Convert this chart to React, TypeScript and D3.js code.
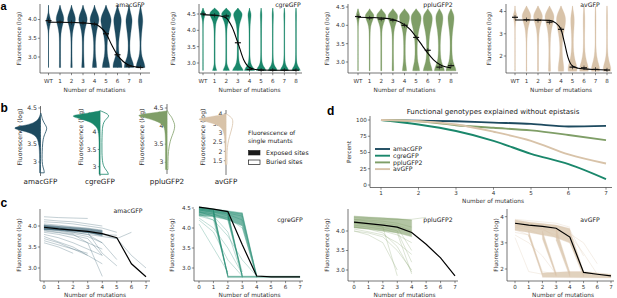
import React from 'react';
import * as d3 from 'd3';

const FONT = '"DejaVu Sans", sans-serif';
const AXC = '#3a3a3a';

// ---------------- colours ----------------
const proteins = ['amacGFP', 'cgreGFP', 'ppluGFP2', 'avGFP'];
const colors = ['#1d4a5f', '#1a876b', '#7f9e67', '#d8c3a9'];

// ---------------- panel a: violins ----------------
const mutationCats = ['WT', '1', '2', '3', '4', '5', '6', '7', '8'];

const amacLevelsA = [4.38, 4.3, 4.18, 4.05, 3.95, 3.82, 3.62, 3.4, 3.2, 3.0, 2.85, 2.72];
const amacViolinsA = [
  [0, 0, 0.05, 0.3, 0.5, 0.2, 0, 0, 0, 0, 0, 0],
  [0, 0.15, 0.45, 0.75, 0.72, 0.4, 0.15, 0.1, 0.1, 0.1, 0.1, 0.12],
  [0, 0.15, 0.45, 0.75, 0.75, 0.42, 0.15, 0.1, 0.1, 0.1, 0.12, 0.15],
  [0, 0.15, 0.5, 0.8, 0.8, 0.48, 0.2, 0.12, 0.12, 0.15, 0.2, 0.25],
  [0, 0.15, 0.5, 0.85, 0.85, 0.58, 0.3, 0.15, 0.15, 0.2, 0.35, 0.4],
  [0, 0.2, 0.6, 0.95, 1.0, 0.82, 0.45, 0.22, 0.2, 0.3, 0.6, 0.7],
  [0, 0.15, 0.4, 0.7, 0.72, 0.62, 0.4, 0.2, 0.2, 0.35, 0.8, 0.85],
  [0, 0.12, 0.3, 0.55, 0.6, 0.5, 0.3, 0.15, 0.15, 0.3, 0.8, 0.9],
  [0, 0.1, 0.25, 0.4, 0.45, 0.35, 0.2, 0.1, 0.1, 0.25, 0.7, 0.85],
];
const amacMediansA = [3.97, 3.93, 3.92, 3.91, 3.88, 3.62, 3.06, 2.76, 2.72];
const amacCurveA = [[0, 3.93], [1, 3.925], [2, 3.92], [3, 3.91], [4, 3.88], [4.5, 3.8], [5, 3.63], [5.5, 3.32], [6, 3.05], [6.5, 2.88], [7, 2.78], [7.5, 2.74], [8, 2.72]];

const cgreLevelsA = [4.68, 4.6, 4.52, 4.42, 4.28, 4.08, 3.75, 3.4, 3.1, 2.92, 2.83, 2.77];
const cgreViolinsA = [
  [0, 0.2, 0.45, 0.3, 0.05, 0, 0, 0, 0, 0, 0, 0],
  [0, 0.6, 1.0, 0.8, 0.3, 0.12, 0.08, 0.08, 0.08, 0.1, 0.3, 0.4],
  [0, 0.5, 0.95, 0.85, 0.4, 0.12, 0.08, 0.08, 0.08, 0.15, 0.5, 0.6],
  [0, 0.45, 0.85, 0.8, 0.45, 0.18, 0.1, 0.1, 0.15, 0.4, 0.9, 1.0],
  [0, 0.12, 0.3, 0.3, 0.18, 0.1, 0.08, 0.08, 0.1, 0.35, 0.85, 0.95],
  [0, 0.06, 0.15, 0.15, 0.1, 0.08, 0.06, 0.06, 0.08, 0.3, 0.8, 0.9],
  [0, 0.05, 0.12, 0.12, 0.08, 0.06, 0.05, 0.05, 0.07, 0.25, 0.75, 0.85],
  [0, 0.04, 0.1, 0.1, 0.07, 0.05, 0.05, 0.05, 0.07, 0.25, 0.7, 0.8],
  [0, 0.04, 0.08, 0.08, 0.06, 0.05, 0.05, 0.05, 0.07, 0.25, 0.7, 0.8],
];
const cgreMediansA = [4.5, 4.46, 4.44, 3.62, 2.8, 2.78, 2.78, 2.78, 2.78];
const cgreCurveA = [[0, 4.48], [1, 4.46], [1.5, 4.44], [2, 4.38], [2.5, 4.1], [3, 3.62], [3.5, 3.1], [4, 2.86], [4.5, 2.8], [5, 2.785], [6, 2.78], [8, 2.78]];

const ppluLevelsA = [4.45, 4.38, 4.3, 4.2, 4.05, 3.9, 3.7, 3.45, 3.2, 3.0, 2.85, 2.76];
const ppluViolinsA = [
  [0, 0.15, 0.35, 0.3, 0.05, 0, 0, 0, 0, 0, 0, 0],
  [0, 0.3, 0.85, 0.8, 0.3, 0.12, 0.08, 0.06, 0.06, 0.06, 0.06, 0.06],
  [0, 0.35, 0.9, 0.85, 0.4, 0.15, 0.1, 0.08, 0.08, 0.08, 0.08, 0.08],
  [0, 0.4, 0.9, 0.95, 0.55, 0.25, 0.12, 0.1, 0.1, 0.12, 0.15, 0.15],
  [0, 0.4, 0.9, 1.0, 0.75, 0.4, 0.2, 0.15, 0.15, 0.2, 0.35, 0.4],
  [0, 0.4, 0.85, 1.0, 0.85, 0.55, 0.3, 0.2, 0.2, 0.3, 0.6, 0.65],
  [0, 0.35, 0.75, 0.9, 0.8, 0.55, 0.3, 0.2, 0.22, 0.35, 0.75, 0.85],
  [0, 0.3, 0.6, 0.7, 0.6, 0.4, 0.25, 0.15, 0.2, 0.35, 0.85, 0.95],
  [0, 0.25, 0.5, 0.6, 0.5, 0.35, 0.2, 0.15, 0.2, 0.35, 0.85, 0.95],
];
const ppluMediansA = [4.24, 4.2, 4.17, 4.14, 4.0, 3.67, 3.32, 2.86, 2.9];
const ppluCurveA = [[0, 4.22], [1, 4.215], [2, 4.2], [3, 4.16], [4, 4.02], [4.5, 3.88], [5, 3.68], [5.5, 3.46], [6, 3.24], [6.5, 3.06], [7, 2.94], [7.5, 2.87], [8, 2.84]];

const avLevelsA = [4.25, 4.1, 3.95, 3.8, 3.6, 3.3, 3.0, 2.6, 2.2, 1.8, 1.5, 1.32];
const avViolinsA = [
  [0, 0, 0.2, 0.4, 0.2, 0, 0, 0, 0, 0, 0, 0],
  [0, 0.35, 0.65, 0.9, 0.7, 0.3, 0.15, 0.08, 0.06, 0.06, 0.06, 0.06],
  [0, 0.35, 0.65, 0.9, 0.75, 0.35, 0.18, 0.1, 0.08, 0.08, 0.08, 0.08],
  [0, 0.35, 0.65, 0.9, 0.8, 0.45, 0.25, 0.15, 0.12, 0.15, 0.2, 0.2],
  [0, 0.3, 0.55, 0.8, 0.9, 0.75, 0.45, 0.25, 0.2, 0.35, 0.55, 0.5],
  [0, 0.1, 0.2, 0.3, 0.35, 0.3, 0.2, 0.15, 0.2, 0.45, 0.9, 0.8],
  [0, 0.05, 0.1, 0.15, 0.15, 0.15, 0.1, 0.1, 0.15, 0.4, 0.85, 0.8],
  [0, 0.05, 0.08, 0.1, 0.1, 0.1, 0.08, 0.08, 0.12, 0.35, 0.8, 0.75],
  [0, 0.04, 0.06, 0.08, 0.08, 0.08, 0.06, 0.06, 0.1, 0.3, 0.75, 0.7],
];
const avMediansA = [3.74, 3.63, 3.6, 3.52, 3.2, 1.5, 1.47, 1.4, 1.37];
const avCurveA = [[0, 3.62], [1, 3.62], [2, 3.62], [3, 3.6], [3.5, 3.5], [4, 3.2], [4.3, 2.6], [4.6, 1.95], [5, 1.55], [5.5, 1.45], [6, 1.42], [7, 1.39], [8, 1.37]];

// ---------------- panel b: single-mutant half violins ----------------
const amacLevelsB = [4.35, 4.2, 4.08, 4.0, 3.95, 3.9, 3.8, 3.65, 3.4, 3.2, 3.0, 2.85, 2.76, 2.7];
const amacExposedB = [0, 0.05, 0.2, 0.6, 0.9, 0.75, 0.25, 0.08, 0.04, 0.03, 0.03, 0.03, 0.03, 0.03];
const amacBuriedB = [0.02, 0.05, 0.12, 0.18, 0.2, 0.2, 0.15, 0.08, 0.06, 0.05, 0.05, 0.08, 0.12, 0.12];

const cgreLevelsB = [4.62, 4.55, 4.5, 4.45, 4.38, 4.3, 4.15, 4.0, 3.7, 3.4, 3.1, 2.95, 2.85, 2.78];
const cgreExposedB = [0, 0.4, 0.85, 0.9, 0.6, 0.3, 0.1, 0.04, 0.03, 0.03, 0.03, 0.03, 0.03, 0.03];
const cgreBuriedB = [0, 0.2, 0.28, 0.28, 0.2, 0.12, 0.08, 0.07, 0.06, 0.06, 0.08, 0.15, 0.25, 0.27];

const ppluLevelsB = [4.42, 4.35, 4.3, 4.25, 4.15, 4.05, 3.95, 3.8, 3.6, 3.3, 3.0, 2.8];
const ppluExposedB = [0, 0.6, 1.0, 0.8, 0.35, 0.15, 0.08, 0.06, 0.05, 0.05, 0.05, 0.05];
const ppluBuriedB = [0, 0.05, 0.1, 0.15, 0.2, 0.25, 0.25, 0.2, 0.1, 0.04, 0.03, 0.03];

const avLevelsB = [4.0, 3.85, 3.75, 3.65, 3.5, 3.3, 3.0, 2.6, 2.2, 1.8, 1.5, 1.3];
const avExposedB = [0, 0.5, 0.95, 0.8, 0.4, 0.15, 0.06, 0.04, 0.03, 0.03, 0.03, 0.03];
const avBuriedB = [0, 0.15, 0.2, 0.22, 0.22, 0.2, 0.15, 0.08, 0.04, 0.03, 0.03, 0.03];

const legendBTitle = ['Fluorescence of', 'single mutants'];
const legendBItems = ['Exposed sites', 'Buried sites'];

// ---------------- panel c: trajectories ----------------
const amacMeanC = [3.97, 3.93, 3.9, 3.87, 3.82, 3.72, 3.1, 2.79];
const amacTrajC = [
  [4.22, 4.2, 4.19, 4.18],
  [4.15, 4.12, 4.1, 4.05, 4.0],
  [4.1, 4.08, 4.05, 4.0, 3.95, 3.85],
  [4.05, 4.02, 3.98, 3.95, 3.9],
  [3.92, 3.88, 3.82, 3.75, 3.6],
  [3.85, 3.8, 3.72, 3.6, 3.45],
  [3.8, 3.72, 3.6, 3.45, 3.3],
  [3.75, 3.62, 3.5, 3.3],
  [3.7, 3.6, 3.45, 3.35],
  [3.9, 3.85, 3.8, 3.6, 2.8],
  [3.88, 3.84, 3.78, 3.7, 3.3],
  [3.95, 3.9, 3.85, 3.8, 3.6, 3.2],
  [3.96, 3.92, 3.88, 3.85, 3.8, 3.78],
  [3.98, 3.95, 3.9, 3.85, 3.8, 3.7, 3.3, 3.0],
  [3.65, 3.55, 3.45, 3.3, 3.1],
  [3.6, 3.5, 3.35],
  [4.0, 3.95, 3.9, 3.85, 3.35, 3.05],
  [3.93, 3.9, 3.85, 3.8, 3.75, 3.7, 3.85],
];
const amacBandsC = [
  [[0, 4.03], [1, 4.0], [2, 3.97], [3, 3.94], [4, 3.89], [4, 3.76], [3, 3.84], [2, 3.87], [1, 3.9], [0, 3.91]],
];

const cgreMeanC = [4.52, 4.47, 4.41, 3.58, 2.8, 2.78, 2.78, 2.78];
const cgreTrajC = [
  [4.5, 4.45, 2.78],
  [4.48, 4.42, 2.8],
  [4.45, 4.38, 2.82],
  [4.4, 4.3, 2.8],
  [4.35, 4.2, 2.85],
  [4.5, 4.45, 4.38, 2.8],
  [4.48, 4.42, 4.35, 2.78],
  [4.45, 4.4, 4.3, 2.82],
  [4.42, 4.35, 4.2, 2.9],
  [4.4, 4.3, 3.9, 2.8],
  [4.5, 4.46, 4.4, 4.35, 2.78],
  [4.47, 4.43, 4.37, 4.3, 2.8],
  [4.45, 4.4, 4.34, 4.2, 2.82],
  [4.4, 4.35, 4.25, 4.0, 2.8],
  [4.3, 4.2, 3.8, 3.2, 2.8],
  [4.2, 3.9, 3.2, 2.8],
  [4.1, 3.5, 2.9],
  [4.25, 4.0, 3.5, 2.85],
];
const cgreBandsC = [
  [[0, 4.53], [1, 4.48], [2, 4.43], [3, 4.38], [3, 4.05], [2, 4.2], [1, 4.28], [0, 4.3]],
  [[1, 4.46], [2, 2.8], [2, 2.76], [1, 4.28]],
  [[2, 4.42], [3, 2.8], [3, 2.76], [2, 4.2]],
  [[3, 4.38], [4, 2.8], [4, 2.76], [3, 4.02]],
  [[2, 2.8], [7, 2.8], [7, 2.76], [2, 2.76]],
];

const ppluMeanC = [4.23, 4.19, 4.15, 4.1, 3.96, 3.66, 3.31, 2.85];
const ppluTrajC = [
  [4.38, 4.35, 4.33, 4.3, 4.28],
  [4.3, 4.28, 4.25, 4.2, 4.1],
  [4.1, 4.05, 4.0, 3.9, 3.7],
  [4.05, 3.98, 3.9, 3.7, 3.4],
  [4.0, 3.95, 3.85, 3.5, 3.0],
  [4.15, 4.1, 4.05, 3.95, 2.9],
  [4.2, 4.15, 4.1, 4.0, 3.2],
  [4.0, 3.9, 3.7, 3.0],
  [4.1, 4.05, 3.95, 3.6, 2.95],
  [4.25, 4.2, 4.15, 4.1, 3.5],
  [4.2, 4.18, 4.1, 2.85],
  [4.3, 4.25, 4.2, 4.15, 4.0],
  [4.35, 4.32, 4.3, 4.3, 4.3, 4.35],
];
const ppluBandsC = [
  [[0, 4.38], [1, 4.36], [2, 4.34], [3, 4.32], [4, 4.28], [4, 3.85], [3, 3.95], [2, 4.0], [1, 4.05], [0, 4.08]],
];

const avMeanC = [3.75, 3.68, 3.63, 3.56, 3.22, 1.87, 1.8, 1.74];
const avTrajC = [
  [3.9, 3.85, 3.8, 3.75, 3.6],
  [3.8, 3.75, 3.7, 3.65, 3.5, 2.5],
  [3.5, 3.3, 1.8],
  [3.6, 3.5, 3.3, 1.75],
  [3.3, 3.0, 2.5, 1.8],
  [3.7, 3.6, 3.5, 3.3, 1.85],
  [3.65, 3.6, 3.55, 3.2, 3.0, 1.9],
  [3.4, 3.3, 1.9, 1.8],
  [3.2, 1.9, 1.8],
  [3.75, 3.7, 3.6, 3.5, 3.3, 2.6, 1.8],
  [3.7, 3.65, 3.55, 3.45, 3.35, 3.0, 2.2],
];
const avBandsC = [
  [[0, 3.88], [1, 3.8], [2, 3.74], [3, 3.68], [4, 3.55], [4, 3.0], [3, 3.2], [2, 3.3], [1, 3.4], [0, 3.48]],
  [[1, 3.45], [2, 1.85], [2, 1.72], [1, 3.25]],
  [[2, 3.45], [3, 1.85], [3, 1.72], [2, 3.15]],
  [[3, 3.55], [4, 1.88], [4, 1.7], [3, 3.1]],
  [[4, 3.5], [5, 1.9], [5, 1.7], [4, 3.0]],
  [[2, 1.85], [4, 1.9], [5, 1.9], [6, 1.85], [7, 1.8], [7, 1.66], [2, 1.68]],
];

// ---------------- panel d: percent explained ----------------
const mutationsD = [1, 2, 3, 4, 5, 6, 7];
const amacPercentD = [100, 99, 98, 96, 94, 90, 91];
const cgrePercentD = [100, 93, 83, 68, 48, 32, 9];
const ppluPercentD = [100, 98, 92, 88, 84, 77, 69];
const avPercentD = [100, 98, 93, 82, 68, 47, 33];
const percentTicksD = [0, 25, 50, 75, 100];
const titleD = 'Functional genotypes explained without epistasis';

// ---------------- layout ----------------
const panelA = [
  { levels: amacLevelsA, violins: amacViolinsA, medians: amacMediansA, curve: amacCurveA, x: [48.5, 140.5], yd: [4, 3], yr: [19.5, 57], left: 40, right: 150, ticks: [3, 3.5, 4], fmt: '.1f', ylx: 19, title: [130, 7] },
  { levels: cgreLevelsA, violins: cgreViolinsA, medians: cgreMediansA, curve: cgreCurveA, x: [203, 296], yd: [4.5, 3], yr: [14, 63], left: 199, right: 302, ticks: [3, 3.5, 4, 4.5], fmt: '.1f', ylx: 173, title: [288, 7] },
  { levels: ppluLevelsA, violins: ppluViolinsA, medians: ppluMediansA, curve: ppluCurveA, x: [358, 451], yd: [4.5, 3], yr: [7, 62], left: 348, right: 458, ticks: [3, 3.5, 4, 4.5], fmt: '.1f', ylx: 327, title: [438, 7] },
  { levels: avLevelsA, violins: avViolinsA, medians: avMediansA, curve: avCurveA, x: [515, 607], yd: [4, 2], yr: [11.5, 56], left: 506, right: 612, ticks: [2, 3, 4], fmt: 'd', ylx: 489, title: [590, 7] },
];

const panelB = [
  { levels: amacLevelsB, exp: amacExposedB, bur: amacBuriedB, cx: 40.5, yd: [4.5, 3], yr: [108, 162], top: 106, bottom: 176, ticks: [3, 3.5, 4, 4.5], ylx: 20 },
  { levels: cgreLevelsB, exp: cgreExposedB, bur: cgreBuriedB, cx: 100, yd: [4.5, 3], yr: [115, 166.7], top: 111, bottom: 176, ticks: [3, 3.5, 4, 4.5], ylx: 81 },
  { levels: ppluLevelsB, exp: ppluExposedB, bur: ppluBuriedB, cx: 167, yd: [4.5, 3], yr: [108, 162.3], top: 104, bottom: 174, ticks: [3, 3.5, 4, 4.5], ylx: 142 },
  { levels: avLevelsB, exp: avExposedB, bur: avBuriedB, cx: 226, yd: [4, 1.5], yr: [114, 160.7], top: 110, bottom: 175, ticks: [1.5, 2, 2.5, 3, 3.5, 4], ylx: 203 },
];

const panelC = [
  { mean: amacMeanC, traj: amacTrajC, bands: amacBandsC, x: [44, 146], yd: [4, 3], yr: [226, 268], left: 40, right: 150, ticks: [3, 3.5, 4], fmt: '.1f', ylx: 19, title: [128, 213] },
  { mean: cgreMeanC, traj: cgreTrajC, bands: cgreBandsC, x: [199, 300], yd: [4.5, 3], yr: [208, 268], left: 194, right: 303, ticks: [3, 3.5, 4, 4.5], fmt: '.1f', ylx: 172, title: [290, 222] },
  { mean: ppluMeanC, traj: ppluTrajC, bands: ppluBandsC, x: [354, 455], yd: [4, 3], yr: [231, 270], left: 348, right: 458, ticks: [3, 3.5, 4], fmt: '.1f', ylx: 327, title: [438, 222] },
  { mean: avMeanC, traj: avTrajC, bands: avBandsC, x: [515, 611], yd: [4, 2], yr: [216.7, 269], left: 507, right: 614, ticks: [2, 3, 4], fmt: 'd', ylx: 496, title: [590, 222] },
];

const TICK_FS = 5.6;
const LAB_FS = 5.8;

function YAxis({ y, ticks, fmt, left, top, bottom }: any) {
  const f = d3.format(fmt);
  return (
    <g>
      <line x1={left} x2={left} y1={top} y2={bottom} stroke={AXC} strokeWidth={0.7} />
      {ticks.map((t: number) => (
        <g key={t}>
          <line x1={left - 2.2} x2={left} y1={y(t)} y2={y(t)} stroke={AXC} strokeWidth={0.6} />
          <text x={left - 3.2} y={y(t)} dy="0.35em" textAnchor="end" fontSize={TICK_FS} fill="#333" fontFamily={FONT}>{f(t)}</text>
        </g>
      ))}
    </g>
  );
}

function YLabel({ x, y, text, fs = LAB_FS }: any) {
  return (
    <text transform={`translate(${x},${y}) rotate(-90)`} textAnchor="middle" dy="0.35em" fontSize={fs} fill="#333" fontFamily={FONT}>{text}</text>
  );
}

function PanelA({ cfg, idx }: any) {
  const x = d3.scalePoint<string>().domain(mutationCats).range(cfg.x as [number, number]);
  const xi = d3.scaleLinear().domain([0, 8]).range(cfg.x);
  const y = d3.scaleLinear().domain(cfg.yd).range(cfg.yr);
  const col = colors[idx];
  const top = 4, axisY = 73;
  const HW = 5.3;
  const area = (cx: number, ws: number[]) =>
    d3.area<any>().y((d: any) => y(d[0])).x0((d: any) => cx - d[1] * HW).x1((d: any) => cx + d[1] * HW).curve(d3.curveBasis)(
      cfg.levels.map((l: number, i: number) => [l, ws[i]])
    );
  const curve = d3.line<any>().x((d: any) => xi(d[0])).y((d: any) => y(d[1])).curve(d3.curveMonotoneX)(cfg.curve);
  const midX = (cfg.x[0] + cfg.x[1]) / 2;
  return (
    <g>
      <YLabel x={cfg.ylx} y={38.5} text="Fluorescence (log)" />
      {mutationCats.map((c, i) => (
        <g key={c}>
          <line x1={x(c)} x2={x(c)} y1={y(cfg.levels[0])} y2={y(cfg.levels[cfg.levels.length - 1])} stroke={col} strokeWidth={0.8} opacity={i === 0 ? 0.9 : 0.8} />
          <path d={area(x(c)!, cfg.violins[i]) || ''} fill={col} stroke={col} strokeWidth={0.3} />
        </g>
      ))}
      <path d={curve || ''} fill="none" stroke="#000" strokeWidth={1.1} />
      {mutationCats.map((c, i) => (
        <g key={'m' + c}>
          <line x1={x(c)! - 3} x2={x(c)! + 3} y1={y(cfg.medians[i])} y2={y(cfg.medians[i])} stroke="#111" strokeWidth={1.2} />
          <line x1={x(c)} x2={x(c)} y1={y(cfg.medians[i]) - 2.2} y2={y(cfg.medians[i]) + 2.2} stroke="#111" strokeWidth={0.6} />
        </g>
      ))}
      <YAxis y={y} ticks={cfg.ticks} fmt={cfg.fmt} left={cfg.left} top={top} bottom={axisY} />
      <line x1={cfg.left} x2={cfg.right} y1={axisY} y2={axisY} stroke={AXC} strokeWidth={0.7} />
      {mutationCats.map((c) => (
        <g key={'t' + c}>
          <line x1={x(c)} x2={x(c)} y1={axisY} y2={axisY + 2.2} stroke={AXC} strokeWidth={0.6} />
          <text x={x(c)} y={83} textAnchor="middle" fontSize={TICK_FS} fill="#333" fontFamily={FONT}>{c}</text>
        </g>
      ))}
      <text x={midX} y={92} textAnchor="middle" fontSize={LAB_FS} fill="#333" fontFamily={FONT}>Number of mutations</text>
      <text x={cfg.title[0]} y={cfg.title[1]} textAnchor="middle" fontSize={6.2} fill="#222" fontFamily={FONT}>{proteins[idx]}</text>
    </g>
  );
}

function PanelB({ cfg, idx }: any) {
  const y = d3.scaleLinear().domain(cfg.yd).range(cfg.yr);
  const col = colors[idx];
  const S = 31;
  const pts = (ws: number[]) => cfg.levels.map((l: number, i: number) => [l, ws[i]]);
  const left = d3.area<any>().y((d: any) => y(d[0])).x0((d: any) => cfg.cx - d[1] * S).x1(() => cfg.cx).curve(d3.curveBasis)(pts(cfg.exp));
  const right = d3.area<any>().y((d: any) => y(d[0])).x0(() => cfg.cx).x1((d: any) => cfg.cx + Math.max(d[1] * S, 0.6)).curve(d3.curveBasis)(pts(cfg.bur));
  return (
    <g>
      <YLabel x={cfg.ylx} y={137} text="Fluorescence (log)" fs={6.2} />
      <line x1={cfg.cx} x2={cfg.cx} y1={cfg.top} y2={cfg.bottom} stroke={AXC} strokeWidth={0.7} />
      {cfg.ticks.map((t: number) => (
        <g key={t}>
          <line x1={cfg.cx - 2.2} x2={cfg.cx} y1={y(t)} y2={y(t)} stroke={AXC} strokeWidth={0.6} />
          <text x={cfg.cx - 3.5} y={y(t)} dy="0.35em" textAnchor="end" fontSize={6.2} fill="#333" fontFamily={FONT}>{String(t)}</text>
        </g>
      ))}
      <path d={left || ''} fill={col} stroke={col} strokeWidth={0.4} />
      <path d={right || ''} fill="#fff" stroke={col} strokeWidth={0.8} />
      <text x={cfg.cx} y={184} textAnchor="middle" fontSize={7.2} fill="#222" fontFamily={FONT}>{proteins[idx]}</text>
    </g>
  );
}

function PanelC({ cfg, idx }: any) {
  const x = d3.scaleLinear().domain([0, 7]).range(cfg.x);
  const y = d3.scaleLinear().domain(cfg.yd).range(cfg.yr);
  const col = colors[idx];
  const top = 209, axisY = 281;
  const line = d3.line<number>().x((_, i) => x(i)).y((d) => y(d));
  const poly = d3.line<any>().x((d: any) => x(d[0])).y((d: any) => y(d[1]));
  const ticks = d3.range(0, 8);
  const midX = (cfg.x[0] + cfg.x[1]) / 2;
  return (
    <g>
      <YLabel x={cfg.ylx} y={245} text="Fluorescence (log)" />
      {cfg.bands.map((b: any, i: number) => (
        <path key={'b' + i} d={(poly(b) || '') + 'Z'} fill={col} opacity={idx === 3 ? 0.75 : 0.6} stroke={col} strokeWidth={0.3} />
      ))}
      {cfg.traj.map((t: number[], i: number) => (
        <path key={'t' + i} d={line(t) || ''} fill="none" stroke={col} strokeWidth={0.6} opacity={0.45} />
      ))}
      <path d={line(cfg.mean) || ''} fill="none" stroke="#000" strokeWidth={1.2} />
      <YAxis y={y} ticks={cfg.ticks} fmt={cfg.fmt} left={cfg.left} top={top} bottom={axisY} />
      <line x1={cfg.left} x2={cfg.right} y1={axisY} y2={axisY} stroke={AXC} strokeWidth={0.7} />
      {ticks.map((t) => (
        <g key={'k' + t}>
          <line x1={x(t)} x2={x(t)} y1={axisY} y2={axisY + 2.2} stroke={AXC} strokeWidth={0.6} />
          <text x={x(t)} y={289} textAnchor="middle" fontSize={TICK_FS} fill="#333" fontFamily={FONT}>{t}</text>
        </g>
      ))}
      <text x={midX} y={297} textAnchor="middle" fontSize={LAB_FS} fill="#333" fontFamily={FONT}>Number of mutations</text>
      <text x={cfg.title[0]} y={cfg.title[1]} textAnchor="middle" fontSize={6.2} fill="#222" fontFamily={FONT}>{proteins[idx]}</text>
    </g>
  );
}

function PanelD() {
  const x = d3.scaleLinear().domain([1, 7]).range([381, 606]);
  const y = d3.scaleLinear().domain([0, 100]).range([185, 120]);
  const series = [amacPercentD, cgrePercentD, ppluPercentD, avPercentD];
  const line = d3.line<number>().x((_, i) => x(mutationsD[i])).y((d) => y(d)).curve(d3.curveMonotoneX);
  const left = 370, axisY = 187.5;
  return (
    <g>
      <text x={493} y={113.5} textAnchor="middle" fontSize={7} fill="#222" fontFamily={FONT}>{titleD}</text>
      <YLabel x={349} y={152} text="Percent" />
      {series.map((s, i) => (
        <path key={i} d={line(s) || ''} fill="none" stroke={colors[i]} strokeWidth={1.9} />
      ))}
      <line x1={left} x2={left} y1={116} y2={axisY} stroke={AXC} strokeWidth={0.7} />
      {percentTicksD.map((t) => (
        <g key={t}>
          <line x1={left - 2.2} x2={left} y1={y(t)} y2={y(t)} stroke={AXC} strokeWidth={0.6} />
          <text x={left - 3.2} y={y(t)} dy="0.35em" textAnchor="end" fontSize={TICK_FS} fill="#333" fontFamily={FONT}>{t}</text>
        </g>
      ))}
      <line x1={left} x2={612} y1={axisY} y2={axisY} stroke={AXC} strokeWidth={0.7} />
      {mutationsD.map((t) => (
        <g key={'x' + t}>
          <line x1={x(t)} x2={x(t)} y1={axisY} y2={axisY + 2.2} stroke={AXC} strokeWidth={0.6} />
          <text x={x(t)} y={195} textAnchor="middle" fontSize={TICK_FS} fill="#333" fontFamily={FONT}>{t}</text>
        </g>
      ))}
      <text x={493} y={202.5} textAnchor="middle" fontSize={LAB_FS} fill="#333" fontFamily={FONT}>Number of mutations</text>
      {proteins.map((p, i) => (
        <g key={p}>
          <line x1={375} x2={390} y1={149 + i * 6.7} y2={149 + i * 6.7} stroke={colors[i]} strokeWidth={1.9} />
          <text x={393} y={149 + i * 6.7} dy="0.35em" fontSize={6.2} fill="#222" fontFamily={FONT}>{p}</text>
        </g>
      ))}
    </g>
  );
}

function LegendB() {
  return (
    <g fontFamily={FONT} fill="#222">
      <text x={248} y={134.5} fontSize={6}>{legendBTitle[0]}</text>
      <text x={248} y={142.5} fontSize={6}>{legendBTitle[1]}</text>
      <rect x={248.5} y={150.5} width={11.5} height={4.5} fill="#1a1a1a" stroke="#1a1a1a" strokeWidth={0.6} />
      <text x={266} y={152.8} dy="0.35em" fontSize={6.2}>{legendBItems[0]}</text>
      <rect x={248.5} y={160} width={11.5} height={4.5} fill="#fff" stroke="#1a1a1a" strokeWidth={0.7} />
      <text x={266} y={162.3} dy="0.35em" fontSize={6.2}>{legendBItems[1]}</text>
    </g>
  );
}

export default function App() {
  return (
    <svg width={617} height={298} viewBox="0 0 617 298" style={{ position: 'absolute', left: 0, top: 0, background: '#fff' }}>
      <rect width={617} height={298} fill="#fff" />
      {panelA.map((cfg, i) => <PanelA key={'a' + i} cfg={cfg} idx={i} />)}
      {panelB.map((cfg, i) => <PanelB key={'b' + i} cfg={cfg} idx={i} />)}
      <LegendB />
      {panelC.map((cfg, i) => <PanelC key={'c' + i} cfg={cfg} idx={i} />)}
      <PanelD />
      <g fontFamily='"Liberation Sans", Arial, sans-serif' fontWeight="bold" fill="#000">
        <text x={0.5} y={10} fontSize={11}>a</text>
        <text x={0.5} y={112} fontSize={12}>b</text>
        <text x={0.5} y={207} fontSize={12}>c</text>
        <text x={327} y={115} fontSize={12}>d</text>
      </g>
    </svg>
  );
}
